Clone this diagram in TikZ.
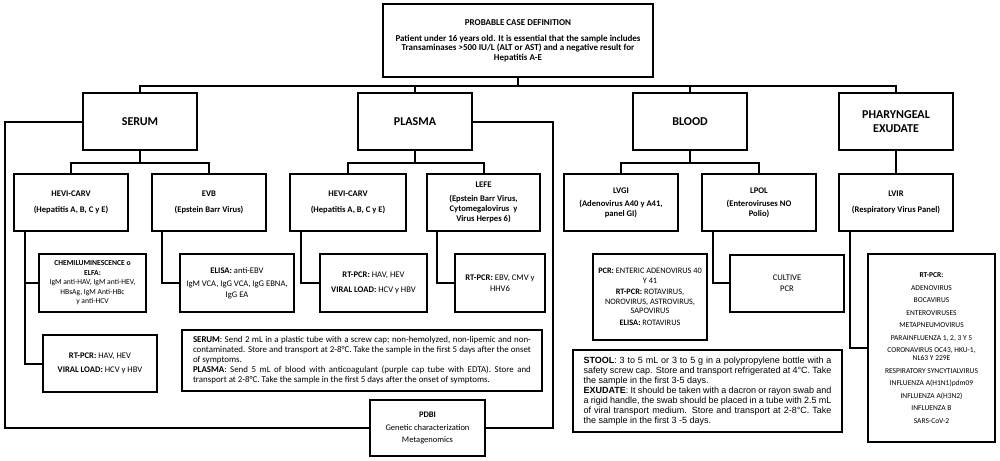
\documentclass[tikz,border=0pt]{standalone}
\usepackage{fontspec}
\setmainfont{Carlito}
\newfontfamily\arialfont{Liberation Sans}
\usepackage{tikz}
\usetikzlibrary{positioning, calc}
\hyphenpenalty=10000

\begin{document}
\begin{tikzpicture}[
    x=1pt, y=-1pt,
    box/.style={rectangle, draw, line width=2pt, fill=white, align=center, inner sep=2pt},
    group/.style={box, minimum width=114pt, minimum height=57pt, font=\fontsize{12}{14}\selectfont\bfseries},
    lab/.style={box, minimum width=114pt, minimum height=57pt, font=\fontsize{8.6}{10}\selectfont\bfseries},
    test/.style={box, font=\fontsize{8.6}{10.5}\selectfont},
    note/.style={box, align=justify, inner sep=0pt},
    link/.style={line width=2pt}
]
\useasboundingbox (0,0) rectangle (1000,460);

% Case definition
\node[box, minimum width=270pt, minimum height=73pt, font=\fontsize{9}{9.2}\selectfont\bfseries] (def) at (518,40.5) {
    PROBABLE CASE DEFINITION\\[7pt]
    Patient under 16 years old. It is essential that the sample includes\\
    Transaminases >500 IU/L (ALT or AST) and a negative result for\\
    Hepatitis A-E
};

% Sample types
\node[group] (serum) at (140,121.5) {SERUM};
\node[group] (plasma) at (415,121.5) {PLASMA};
\node[group] (blood) at (690,121.5) {BLOOD};
\node[group] (phar) at (896,121.5) {PHARYNGEAL\\EXUDATE};

% Laboratories
\node[lab] (hevis) at (71,202.5) {HEVI-CARV\\[6pt](Hepatitis A, B, C y E)};
\node[lab] (evb) at (209,202.5) {EVB\\[6pt](Epstein Barr Virus)};
\node[lab, minimum width=116pt] (hevip) at (348,202.5) {HEVI-CARV\\[6pt](Hepatitis A, B, C y E)};
\node[lab, minimum width=113pt] (lefe) at (483.5,202.5) {LEFE\\[4pt](Epstein Barr Virus,\\Cytomegalovirus\ \ y\\Virus Herpes 6)};
\node[lab] (lvgi) at (621,202.5) {LVGI\\[3pt](Adenovirus A40 y A41,\\panel GI)};
\node[lab] (lpol) at (759,202.5) {LPOL\\[3pt](Enteroviruses NO\\Polio)};
\node[lab] (lvir) at (896,202.5) {LVIR\\[6pt](Respiratory Virus Panel)};

% Tests
\node[test, minimum width=107pt, minimum height=58pt, font=\fontsize{7.6}{9.5}\selectfont] (chemi) at (92.5,283) {
    \textbf{CHEMILUMINESCENCE o}\\\textbf{ELFA:}\\
    IgM anti-HAV, IgM anti-HEV,\\
    HBsAg, IgM Anti-HBc\\
    y anti-HCV
};
\node[test, minimum width=114pt, minimum height=57pt] (rts) at (100,363.5) {
    \textbf{RT-PCR:} HAV, HEV\\[4pt]\textbf{VIRAL LOAD:} HCV y HBV
};
\node[test, minimum width=114pt, minimum height=58pt] (elisa) at (237,283) {
    \textbf{ELISA:} anti-EBV\\[3pt]IgM VCA, IgG VCA, IgG EBNA,\\IgG EA
};
\node[test, minimum width=107pt, minimum height=58pt] (rtp) at (373.5,283) {
    \textbf{RT-PCR:} HAV, HEV\\[4pt]\textbf{VIRAL LOAD:} HCV y HBV
};
\node[test, minimum width=90pt, minimum height=58pt] (rtl) at (500,283) {
    \textbf{RT-PCR:} EBV, CMV y\\HHV6
};
\node[test, minimum width=114pt, minimum height=86pt, font=\fontsize{8.3}{9.5}\selectfont, inner sep=1pt] (pcr) at (650,297) {
    \textbf{PCR:} ENTERIC ADENOVIRUS 40\\Y 41\\[2pt]
    \textbf{RT-PCR:} ROTAVIRUS,\\NOROVIRUS, ASTROVIRUS,\\SAPOVIRUS\\[2pt]
    \textbf{ELISA:} ROTAVIRUS
};
\node[test, minimum width=114pt, minimum height=57pt] (cultive) at (787,283) {CULTIVE\\PCR};
\node[test, minimum width=127pt, minimum height=188pt, font=\fontsize{7.5}{8}\selectfont] (rtr) at (931.5,348) {
    \textbf{RT-PCR:}\\[4.5pt]
    ADENOVIRUS\\[4.5pt]
    BOCAVIRUS\\[4.5pt]
    ENTEROVIRUSES\\[4.5pt]
    METAPNEUMOVIRUS\\[4.5pt]
    PARAINFLUENZA 1, 2, 3 Y 5\\[4.5pt]
    CORONAVIRUS OC43, HKU-1,\\
    NL63 Y 229E\\[4.5pt]
    RESPIRATORY SYNCYTIALVIRUS\\[4.5pt]
    INFLUENZA A(H1N1)pdm09\\[4.5pt]
    INFLUENZA A(H3N2)\\[4.5pt]
    INFLUENZA B\\[4.5pt]
    SARS-CoV-2
};
\node[test, minimum width=115pt, minimum height=56pt, font=\fontsize{8.5}{12.5}\selectfont] (pdbi) at (427.5,428) {
    \textbf{PDBI}\\Genetic characterization\\Metagenomics
};

% Sample notes
\node[note, minimum width=360pt, minimum height=61pt, text width=338pt, font=\fontsize{8.9}{10}\selectfont] (serumnote) at (362,360.5) {
    \textbf{SERUM}: Send 2 mL in a plastic tube with a screw cap; non-hemolyzed, non-lipemic and non-contaminated. Store and transport at 2-8°C. Take the sample in the first 5 days after the onset of symptoms.\\
    \textbf{PLASMA}: Send 5 mL of blood with anticoagulant (purple cap tube with EDTA). Store and transport at 2-8°C. Take the sample in the first 5 days after the onset of symptoms.
};
\node[note, minimum width=269pt, minimum height=82pt, text width=248pt, font=\arialfont\fontsize{9}{10}\selectfont] (stoolnote) at (707.5,391) {
    \textbf{STOOL}: 3 to 5 mL or 3 to 5 g in a polypropylene bottle with a safety screw cap. Store and transport refrigerated at 4°C. Take the sample in the first 3-5 days.\\
    \textbf{EXUDATE}: It should be taken with a dacron or rayon swab and a rigid handle, the swab should be placed in a tube with 2.5 mL of viral transport medium. Store and transport at 2-8°C. Take the sample in the first 3 -5 days.
};

% Definition -> sample types
\foreach \s in {serum, plasma, blood, phar}
    \draw[link] (def.south) -- ++(0,8) -| (\s.north);

% Sample types -> laboratories
\draw[link] (serum.south) -- ++(0,12) -| (hevis.north);
\draw[link] (serum.south) -- ++(0,12) -| (evb.north);
\draw[link] (plasma.south) -- ++(0,12) -| (hevip.north);
\draw[link] (plasma.south) -- ++(0,12) -| (lefe.north);
\draw[link] (blood.south) -- ++(0,12) -| (lvgi.north);
\draw[link] (blood.south) -- ++(0,12) -| (lpol.north);
\draw[link] (phar.south) -- (lvir.north);

% Laboratories -> tests
\draw[link] ([xshift=12pt]hevis.south west) |- (chemi.west);
\draw[link] ([xshift=12pt]hevis.south west) |- (rts.west);
\draw[link] ([xshift=11pt]evb.south west) |- (elisa.west);
\draw[link] ([xshift=12pt]hevip.south west) |- (rtp.west);
\draw[link] ([xshift=11pt]lefe.south west) |- (rtl.west);
\draw[link] ([xshift=12pt]lpol.south west) |- (cultive.west);
\draw[link] ([xshift=12pt]lvir.south west) |- (rtr.west);

% Serum and plasma -> PDBI
\coordinate (serumturn) at (5,428);
\coordinate (plasmaturn) at (553,428);
\draw[link] (serum.west) -| (serumturn) -- (pdbi.west);
\draw[link] (plasma.east) -| (plasmaturn) -- (pdbi.east);

\end{tikzpicture}
\end{document}
